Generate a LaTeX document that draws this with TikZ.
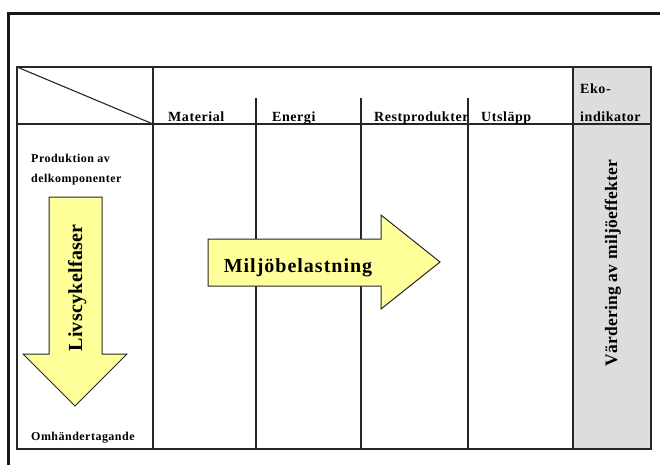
\documentclass[tikz,border=0pt]{standalone}
\usepackage{fontspec}
\setmainfont[LetterSpace=4]{Liberation Serif}
\newfontfamily\widerserif[LetterSpace=5]{Liberation Serif}
\newfontfamily\plainserif[LetterSpace=1.5]{Liberation Serif}
\definecolor{arrowfill}{HTML}{FFFF99}
\definecolor{evalfill}{HTML}{DDDDDD}
\begin{document}
\begin{tikzpicture}[x=1pt,y=-1pt,
  grid/.style={line width=1.1pt,black!85},
  frame/.style={line width=3pt,black!90},
  bigarrow/.style={draw=black!85,line width=1pt,fill=arrowfill,line join=miter},
  headtxt/.style={font=\bfseries\fontsize{14}{16}\selectfont,anchor=base west,inner sep=0pt},
  sidetxt/.style={font=\bfseries\fontsize{12}{14}\selectfont,anchor=base west,inner sep=0pt},
  bigtxt/.style={font=\plainserif\bfseries\fontsize{20}{22}\selectfont,anchor=base,inner sep=0pt}]
\useasboundingbox (0,0) rectangle (660,464);
\clip (0,0) rectangle (660,464);

% outer frame (runs off the right and bottom edges)
\draw[frame] (8,480) -- (8,13) -- (680,13);

% evaluation column
\fill[evalfill] (573,67) rectangle (651,449);

% table grid
\draw[grid] (17,67) rectangle (651,449);
\draw[grid] (17,124) -- (651,124);
\draw[grid] (153,67) -- (153,449);
\draw[grid] (573,67) -- (573,449);
\foreach \cx in {256,361,468} \draw[grid] (\cx,98) -- (\cx,449);
\draw[grid] (17,67) -- (153,124);

% column headings
\node[headtxt] (mat) at (168,121) {Material};
\node[headtxt] (ene) at (272,121) {Energi};
\node[headtxt] (rest) at (374,121) {Restprodukter};
\node[headtxt] (uts) at (481,121) {Utsläpp};
\node[headtxt] (eko1) at (580,93) {Eko-};
\node[headtxt] (eko2) at (580,121) {indikator};

% life-cycle labels
\node[sidetxt] (prod1) at (31,162) {Produktion av};
\node[sidetxt] (prod2) at (31,182) {delkomponenter};
\node[sidetxt] (omh) at (31,440) {Omhändertagande};

% life-cycle arrow (downwards)
\draw[bigarrow] (49,197) -- (102,197) -- (102,354) -- (127,354) -- (75,406)
  -- (23,354) -- (49,354) -- cycle;
\node[bigtxt,rotate=90] (liv) at (82,288) {Livscykelfaser};

% environmental load arrow (rightwards)
\draw[bigarrow] (208,239) -- (381,239) -- (381,215) -- (440,262) -- (381,309)
  -- (381,286) -- (208,286) -- cycle;
\node[bigtxt,font=\widerserif\bfseries\fontsize{20}{22}\selectfont] (milj) at (298,272) {Miljöbelastning};

% evaluation label
\node[bigtxt,font=\plainserif\bfseries\fontsize{17.5}{19}\selectfont,rotate=90] (vard) at (617,263) {Värdering av miljöeffekter};
\end{tikzpicture}
\end{document}
